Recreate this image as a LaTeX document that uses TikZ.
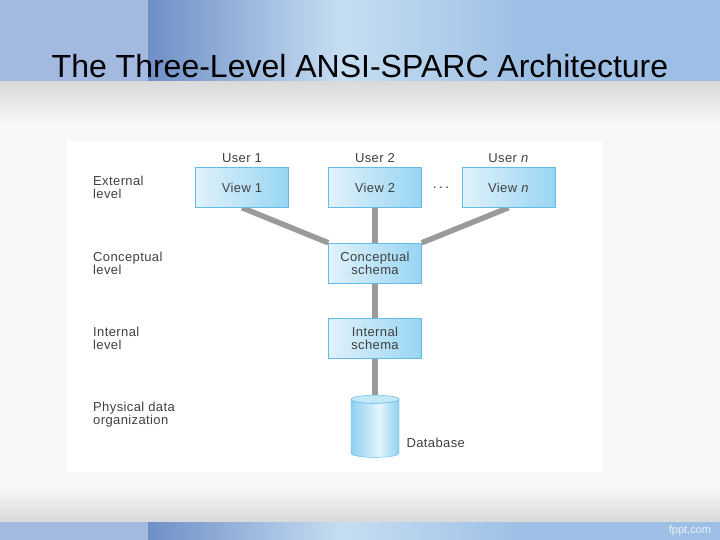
\documentclass[tikz,border=0pt]{standalone}
\usepackage{fontspec}
\setmainfont{Liberation Sans}
\newfontfamily\diagfont[LetterSpace=3]{Liberation Sans}
\usetikzlibrary{shapes.geometric}

\definecolor{bandlight}{HTML}{A3B9DF}
\definecolor{banddark}{HTML}{6F8FC7}
\definecolor{bandpale}{HTML}{C6DEF2}
\definecolor{bandmid}{HTML}{9DBFE5}
\definecolor{pagegrey}{HTML}{D9D9D9}
\definecolor{pagewhite}{HTML}{F8F8F8}
\definecolor{boxleft}{HTML}{E0F2FB}
\definecolor{boxright}{HTML}{98D5F3}
\definecolor{boxline}{HTML}{62BCE6}
\definecolor{linegrey}{HTML}{9A9A9A}
\definecolor{textgrey}{HTML}{404040}
\definecolor{cylside}{HTML}{8FD0F0}
\definecolor{cylpale}{HTML}{E4F5FC}
\definecolor{cyltop}{HTML}{C4E8F8}

\pgfdeclarehorizontalshading{bandshade}{100bp}{color(0bp)=(banddark); color(25bp)=(banddark); color(42bp)=(bandpale); color(58bp)=(bandmid); color(100bp)=(bandmid)}
\pgfdeclareverticalshading{pageshade}{100bp}{color(0bp)=(pagegrey); color(25bp)=(pagegrey); color(29bp)=(pagewhite); color(70bp)=(pagewhite); color(75bp)=(pagegrey); color(100bp)=(pagegrey)}
\pgfdeclarehorizontalshading{cylbody}{100bp}{color(0bp)=(cylside); color(25bp)=(cylside); color(55bp)=(cylpale); color(75bp)=(cylside); color(100bp)=(cylside)}

\pgfdeclarelayer{background}
\pgfdeclarelayer{lines}
\pgfsetlayers{background,lines,main}

\begin{document}
\begin{tikzpicture}[x=1pt, y=-1pt, font=\diagfont\fontsize{13}{13}\selectfont]

    % Styles
    \tikzstyle{schema} = [rectangle, draw=boxline, left color=boxleft, right color=boxright, minimum width=93pt, minimum height=40pt, text=textgrey, align=center, inner sep=1pt]
    \tikzstyle{level} = [anchor=west, align=left, text=textgrey, inner sep=0pt]
    \tikzstyle{user} = [text=textgrey]
    \tikzstyle{link} = [line width=5.5pt, draw=linegrey]

    \useasboundingbox (0,0) rectangle (720,540);

    % Slide background
    \begin{pgfonlayer}{background}
        \shade[shading=pageshade] (0,81) rectangle (720,522);
        \fill[bandlight] (0,0) rectangle (148,81);
        \shade[shading=bandshade] (148,0) rectangle (720,81);
        \fill[bandlight] (0,522) rectangle (148,540);
        \shade[shading=bandshade] (148,522) rectangle (720,540);
        \fill[white] (67,141) rectangle (603,472);
    \end{pgfonlayer}

    % Title
    \node[anchor=base, font=\normalfont\fontsize{32}{38}\selectfont] (title) at (360,78) {The Three-Level ANSI-SPARC Architecture};
    \node[text=white!80!bandmid, font=\normalfont\fontsize{11}{12}\selectfont] (fppt) at (690,531) {fppt.com};

    % Level Labels
    \node[level] (Lext) at (93,187.5) {External\\level};
    \node[level] (Lcon) at (93,263.5) {Conceptual\\level};
    \node[level] (Lint) at (93,338.5) {Internal\\level};
    \node[level] (Lphy) at (93,414.5) {Physical data\\organization};

    % External Level
    \foreach \i/\x/\t in {1/242/1, 2/375/2, n/508.5/\textit{n}} {
        \node[user] (U\i) at (\x,158) {User \t};
        \node[schema] (V\i) at (\x,187.5) {View \t};
    }
    \node[anchor=base, text=textgrey, font=\normalfont\fontsize{14}{14}\selectfont] (dots) at (441,189) {.\,.\,.};

    % Conceptual and Internal Level
    \node[schema] (CS) at (375,263) {Conceptual\\schema};
    \node[schema] (IS) at (375,338) {Internal\\schema};

    % Physical Level
    \node[cylinder, shape border rotate=90, aspect=0.167, draw=boxline, shading=cylbody, minimum height=62pt, inner sep=24pt] (DB) at (375,430.5) {};
    \draw[boxline, fill=cyltop] ([yshift=-4pt]DB.top) ellipse [x radius=24pt, y radius=4pt];
    \node[anchor=west, text=textgrey] (DBlabel) at (403,443) {Database};

    % Connections
    \begin{pgfonlayer}{lines}
        \draw[link] (V1.south) -- (CS.north west);
        \draw[link] (V2.south) -- (CS.north);
        \draw[link] (Vn.south) -- (CS.north east);
        \draw[link] (CS.south) -- (IS.north);
        \draw[link] (IS.south) -- (DB.top);
    \end{pgfonlayer}

\end{tikzpicture}
\end{document}
